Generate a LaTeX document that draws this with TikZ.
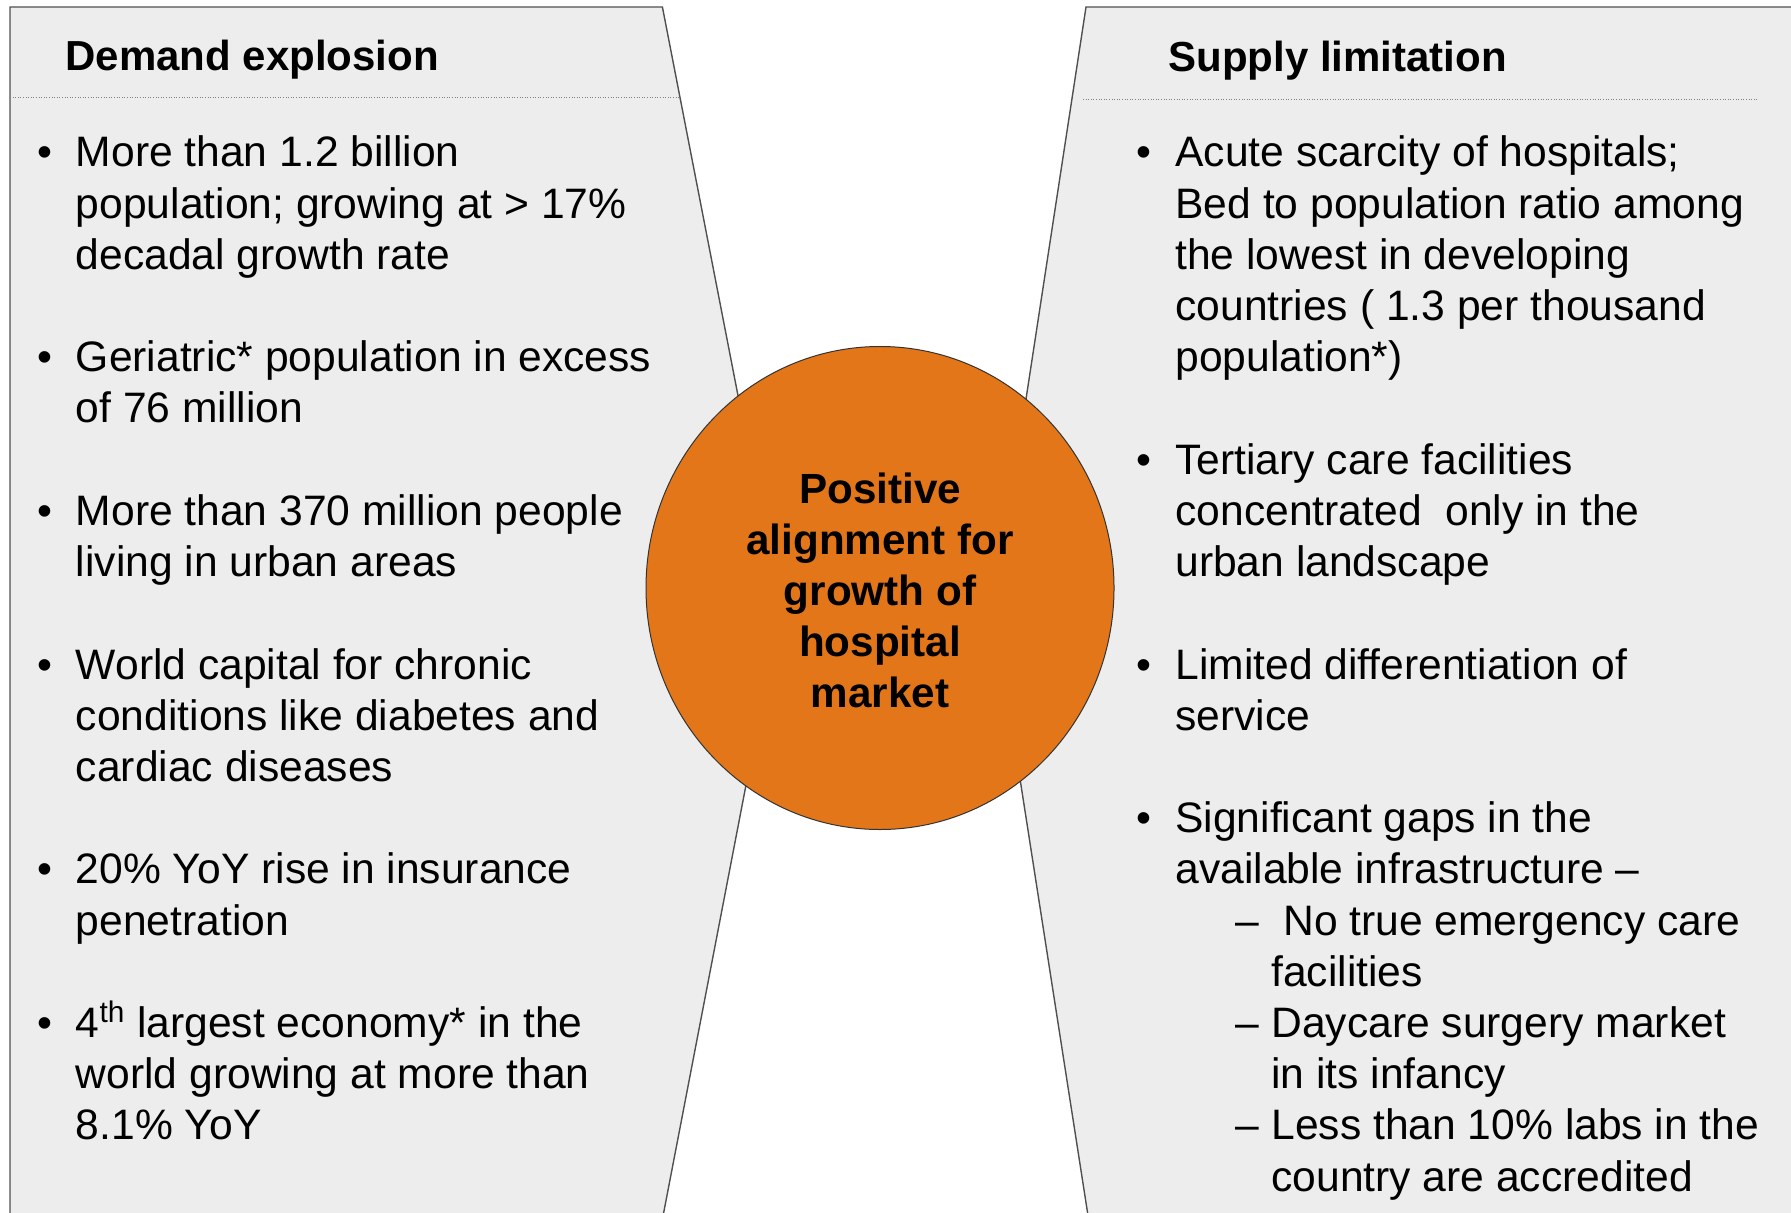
\documentclass[tikz,border=0pt]{standalone}
\usepackage{fontspec}
\setmainfont{Liberation Sans}
\usetikzlibrary{shapes.geometric}

\definecolor{panelgray}{HTML}{EDEDED}
\definecolor{edgegray}{HTML}{505050}
\definecolor{hubfill}{HTML}{E4761A}

\newcommand{\bodyfmt}{\fontsize{21.3pt}{25.6pt}\selectfont}
\newcommand{\headfmt}{\fontsize{21pt}{25.6pt}\selectfont\bfseries}
\newcommand{\hubfmt}{\fontsize{21.1pt}{25.6pt}\selectfont\bfseries}
% one bullet entry: lines separated by \\, first baseline at the node's base
\newcommand{\entry}[1]{\parbox[t]{340pt}{\bodyfmt\raggedright #1}}

\tikzset{
  panelfill/.style={fill=panelgray, draw=none},
  paneledge/.style={draw=edgegray, line width=0.7pt, line join=miter},
  headrule/.style={draw=gray, line width=0.5pt, dash pattern=on 0.5pt off 0.8pt},
  hub/.style={ellipse, draw=black!80, line width=0.5pt, fill=hubfill,
              minimum width=234pt, minimum height=241.5pt, inner sep=0pt},
  heading/.style={anchor=base west, inner sep=0pt, font=\headfmt},
  bulletdot/.style={anchor=base, inner sep=0pt, font=\bodyfmt},
  itemtext/.style={anchor=base west, inner sep=0pt},
}

\begin{document}
\begin{tikzpicture}[x=0.5pt, y=-0.5pt]
  % canvas
  \fill[white] (0,0) rectangle (1791,1213);
  \useasboundingbox (0,0) rectangle (1791,1213);

  % corner points of the two chevron panels
  \coordinate (LB) at (10,1213);
  \coordinate (LT) at (10,7);
  \coordinate (LTR) at (662.4,7);
  \coordinate (LTIP) at (779.7,610);
  \coordinate (LBR) at (663.6,1213);
  \coordinate (RTR) at (1791,7);
  \coordinate (RBR) at (1791,1213);
  \coordinate (RTL) at (1086,7);
  \coordinate (RTIP) at (993.7,610);
  \coordinate (RBL) at (1087.6,1213);

  % panels
  \path[panelfill] (LB) -- (LT) -- (LTR) -- (LTIP) -- (LBR) -- cycle;
  \path[panelfill] (RTR) -- (RTL) -- (RTIP) -- (RBL) -- (RBR) -- cycle;
  \draw[paneledge] (LB) -- (LT) -- (LTR) -- (LTIP) -- (LBR);
  \draw[paneledge] (RTR) -- (RTL) -- (RTIP) -- (RBL);

  % header rules
  \coordinate (LR1) at (10,98);
  \coordinate (LR2) at (680,98);
  \coordinate (RR1) at (1083,100);
  \coordinate (RR2) at (1757,100);
  \draw[headrule] (LR1) -- (LR2);
  \draw[headrule] (RR1) -- (RR2);

  % headings
  \node[heading] (hdemand) at (65,71) {Demand explosion};
  \node[heading] (hsupply) at (1168,72) {Supply limitation};

  % demand side
  \foreach \y [count=\i] in {167,371.8,525.4,679,883.8,1037.4}
    \node[bulletdot] (ld\i) at (45,\y) {•};
  \node[itemtext] (l1) at (75.5,167) {\entry{More than 1.2 billion\\population; growing at > 17\%\\decadal growth rate}};
  \node[itemtext] (l2) at (75.5,371.8) {\entry{Geriatric* population in excess\\of 76 million}};
  \node[itemtext] (l3) at (75.5,525.4) {\entry{More than 370 million people\\living in urban areas}};
  \node[itemtext] (l4) at (75.5,679) {\entry{World capital for chronic\\conditions like diabetes and\\cardiac diseases}};
  \node[itemtext] (l5) at (75.5,883.8) {\entry{20\% YoY rise in insurance\\penetration}};
  \node[itemtext] (l6) at (75.5,1037.4) {\entry{4\textsuperscript{th} largest economy* in the\\world growing at more than\\8.1\% YoY}};

  % supply side
  \foreach \y [count=\i] in {167,474.2,679,832.6}
    \node[bulletdot] (rd\i) at (1144,\y) {•};
  \node[itemtext] (r1) at (1175,167) {\entry{Acute scarcity of hospitals;\\Bed to population ratio among\\the lowest in developing\\countries ( 1.3 per thousand\\population*)}};
  \node[itemtext] (r2) at (1175,474.2) {\entry{Tertiary care facilities\\concentrated\ \ only in the\\urban landscape}};
  \node[itemtext] (r3) at (1175,679) {\entry{Limited differentiation of\\service}};
  \node[itemtext] (r4) at (1175,832.6) {\entry{Significant gaps in the\\available infrastructure –}};
  \foreach \y [count=\i] in {935,1037.4,1139.8}
    \node[bulletdot] (sd\i) at (1247,\y) {–};
  \node[itemtext] (s1) at (1271,935) {\entry{\ No true emergency care\\facilities}};
  \node[itemtext] (s2) at (1271,1037.4) {\entry{Daycare surgery market\\in its infancy}};
  \node[itemtext] (s3) at (1271,1139.8) {\entry{Less than 10\% labs in the\\country are accredited}};

  % central hub
  \node[hub] (hub) at (880,588) {};
  \node[anchor=base, inner sep=0pt] (hubtext) at (880,503)
    {\parbox[t]{200pt}{\hubfmt\centering Positive\\alignment for\\growth of\\hospital\\market}};
\end{tikzpicture}
\end{document}
